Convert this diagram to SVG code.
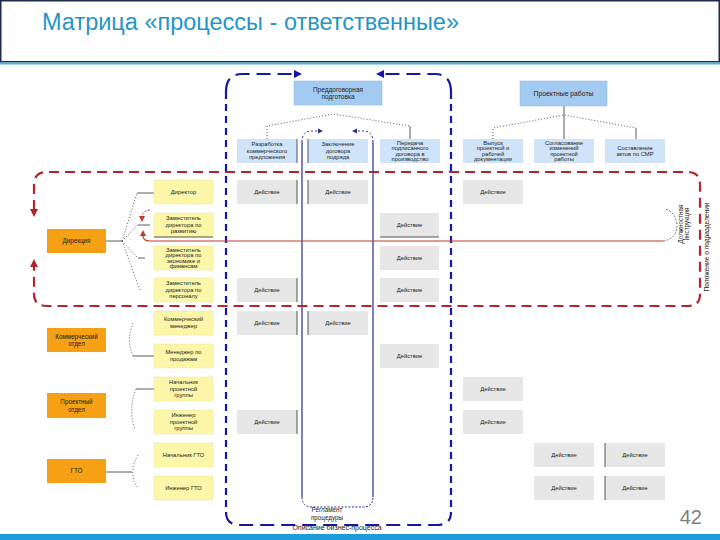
<svg xmlns="http://www.w3.org/2000/svg" width="720" height="540" viewBox="0 0 720 540">
<style>
text{font-family:"Liberation Sans","DejaVu Sans",sans-serif;fill:#222}
.t{font-size:5.8px;text-anchor:middle}
.hb{fill:#a3cbf2;stroke:#8db6de;stroke-width:0.5}
.sb{fill:#cfe4f8}
.yb{fill:#fbf6a8;stroke:#ece49a;stroke-width:0.5}
.ob{fill:#f5a015}
.gb{fill:#e7e7e7}
.edge{stroke:#555;stroke-width:1}
.bd{fill:none;stroke:#1717a3;stroke-width:2.2}
.rd{fill:none;stroke:#b3262c;stroke-width:2.2;stroke-dasharray:10 6}
.dot{fill:none;stroke:#333;stroke-width:0.8;stroke-dasharray:1 2}
.sl{fill:none;stroke:#333;stroke-width:0.8}
</style>
<rect x="0" y="0" width="720" height="540" fill="#fff"/>
<rect x="0.75" y="0.75" width="718.5" height="61" fill="none" stroke="#1d2b4a" stroke-width="1.5"/>
<line x1="0" y1="63.5" x2="720" y2="63.5" stroke="#4bb4dc" stroke-width="2"/>
<rect x="0" y="534" width="720" height="6" fill="#1b9bd7"/>
<text x="42" y="30" style="font-size:23.5px;fill:#2596c4">Матрица «процессы - ответственные»</text>
<text x="702" y="524" style="font-size:20px;fill:#808080;text-anchor:end">42</text>

<g id="connectors">
  <polyline class="dot" points="267,139 267,126 333,114 410,126"/>
  <line class="sl" x1="410" y1="126" x2="410" y2="139"/>
  <line class="sl" x1="564" y1="106" x2="564" y2="139"/>
  <polyline class="dot" points="493,139 493,128 564,115 636,128"/>
  <line class="sl" x1="636" y1="128" x2="636" y2="139"/>
  <line class="sl" x1="106" y1="241" x2="122" y2="241"/>
  <path class="dot" d="M122,241 L137,193 M122,241 L138,225 M122,241 L138,258 M122,241 L140,290"/>
  <line class="sl" x1="137" y1="193" x2="154" y2="193"/>
  <line class="sl" x1="138" y1="225" x2="150" y2="225"/>
  <line class="sl" x1="138" y1="258" x2="145" y2="258"/>
  <path class="dot" d="M133,323 Q126,340 133,356"/>
  <line class="sl" x1="133" y1="356" x2="154" y2="356"/>
  <line class="sl" x1="136" y1="389" x2="154" y2="389"/>
  <path class="dot" d="M136,389 Q128,408 135,430"/>
  <line class="sl" x1="106" y1="472" x2="132" y2="472"/>
  <path class="dot" d="M138,455 Q128,472 137,487"/>
  <path class="bd" d="M226,92 Q226,74 242,74 L296,74" stroke-dasharray="14 7"/>
  <polygon points="294,70 302,74 294,78" fill="#1717a3"/>
  <path class="bd" d="M451,92 Q451,74 435,74 L382,74" stroke-dasharray="14 7"/>
  <polygon points="384,70 376,74 384,78" fill="#1717a3"/>
  <path class="bd" d="M226,92 L226,512" stroke-dasharray="7 5"/>
  <path class="bd" d="M451,92 L451,512" stroke-dasharray="7 5"/>
  <path class="bd" d="M226,512 Q226,525 240,525 L437,525 Q451,525 451,512" stroke-dasharray="14 7"/>
  <path d="M302,142 L302,497 M373,142 L373,497" fill="none" stroke="#2b2b8c" stroke-width="1.2"/>
  <path d="M302,142 Q302,131 312,131 L318,131 M373,142 Q373,131 363,131 L357,131" fill="none" stroke="#2b2b8c" stroke-width="1" stroke-dasharray="2 2"/>
  <polygon points="318,128.5 323,131 318,133.5" fill="#2b2b8c"/>
  <polygon points="357,128.5 352,131 357,133.5" fill="#2b2b8c"/>
  <path d="M302,497 Q302,507 312,507 L363,507 Q373,507 373,497" fill="none" stroke="#2b2b8c" stroke-width="1" stroke-dasharray="2 1.5"/>
  <path class="rd" d="M34,210 L34,185 Q34,172 47,172 L688,172 Q700,172 700,185 L700,294 Q700,306 688,306 L47,306 Q34,306 34,294 L34,266"/>
  <polygon points="30,209 38,209 34,217" fill="#b3262c"/>
  <polygon points="30,267 38,267 34,259" fill="#b3262c"/>
  <path d="M663,241 L150,241 Q143,241 143,236" fill="none" stroke="#c0392b" stroke-width="1.2"/>
  <polygon points="140,236 146,236 143,230" fill="#c0392b"/>
  <path d="M150,210 Q142,211 142,217" fill="none" stroke="#c0392b" stroke-width="1" stroke-dasharray="2 1.5"/>
  <polygon points="139,216 145,216 142,222" fill="#c0392b"/>
  <path d="M663,241 Q677,239 677,225 Q676,212 665,209" fill="none" stroke="#333" stroke-width="0.7" stroke-dasharray="2 1.5"/>
</g>

<g id="labels-side">
  <text transform="translate(683,224) rotate(-90)" class="t" style="font-size:6.3px">Должностная</text>
  <text transform="translate(689,224) rotate(-90)" class="t" style="font-size:6.3px">инструкция</text>
  <text transform="translate(709,247) rotate(-90)" class="t" style="font-size:6.6px">Положение о подразделении</text>
  <text x="327" y="512" class="t" style="font-size:6.3px">Регламент</text>
  <text x="327" y="520" class="t" style="font-size:6.3px">процедуры</text>
  <text x="337" y="530" class="t" style="font-size:7px">Описание бизнес-процесса</text>
</g>

<g id="h-predd"><rect class="hb" x="294" y="81" width="88" height="24"/><text class="t" x="338" y="91.5" style="font-size:6.5px">Преддоговорная</text><text class="t" x="338" y="99" style="font-size:6.5px">подготовка</text></g>
<g id="h-proekt"><rect class="hb" x="520" y="81" width="87" height="25"/><text class="t" x="563.5" y="96" style="font-size:6.8px">Проектные работы</text></g>

<g id="s1"><rect class="sb" x="237" y="139" width="60" height="24"/><line class="edge" x1="297" y1="139" x2="297" y2="163"/><text class="t" x="267" y="146">Разработка</text><text class="t" x="267" y="152.5">коммерческого</text><text class="t" x="267" y="159">предложения</text></g>
<g id="s2"><rect class="sb" x="308" y="139" width="60" height="24"/><line class="edge" x1="308" y1="139" x2="308" y2="163"/><text class="t" x="338" y="146">Заключение</text><text class="t" x="338" y="152.5">договора</text><text class="t" x="338" y="159">подряда</text></g>
<g id="s3"><rect class="sb" x="380" y="139" width="60" height="24"/><text class="t" x="410" y="144.5">Передача</text><text class="t" x="410" y="150">подписанного</text><text class="t" x="410" y="155.5">договора в</text><text class="t" x="410" y="161">производство</text></g>
<g id="s4"><rect class="sb" x="463" y="139" width="60" height="24"/><text class="t" x="493" y="144.5">Выпуск</text><text class="t" x="493" y="150">проектной и</text><text class="t" x="493" y="155.5">рабочей</text><text class="t" x="493" y="161">документации</text></g>
<g id="s5"><rect class="sb" x="534" y="139" width="60" height="24"/><text class="t" x="564" y="144.5">Согласование</text><text class="t" x="564" y="150">изменений</text><text class="t" x="564" y="155.5">проектной</text><text class="t" x="564" y="161">работы</text></g>
<g id="s6"><rect class="sb" x="605" y="139" width="60" height="24"/><text class="t" x="635" y="149.5">Составление</text><text class="t" x="635" y="156">актов по СМР</text></g>

<g id="o1"><rect class="ob" x="47" y="229" width="59" height="24"/><text class="t" x="76.5" y="243" style="font-size:6.3px">Дирекция</text></g>
<g id="o2"><rect class="ob" x="47" y="328" width="59" height="24"/><text class="t" x="76.5" y="338.5" style="font-size:6.3px">Коммерческий</text><text class="t" x="76.5" y="346" style="font-size:6.3px">отдел</text></g>
<g id="o3"><rect class="ob" x="47" y="393" width="59" height="25"/><text class="t" x="76.5" y="404" style="font-size:6.3px">Проектный</text><text class="t" x="76.5" y="411.5" style="font-size:6.3px">отдел</text></g>
<g id="o4"><rect class="ob" x="47" y="459" width="59" height="24"/><text class="t" x="76.5" y="473" style="font-size:6.3px">ГТО</text></g>

<g id="y1"><rect class="yb" x="154" y="180" width="59" height="24"/><text class="t" x="183.5" y="194">Директор</text></g>
<g id="y2"><rect class="yb" x="154" y="213" width="59" height="24"/><line class="edge" x1="154" y1="237" x2="213" y2="237"/><text class="t" x="183.5" y="220">Заместитель</text><text class="t" x="183.5" y="226.5">директора по</text><text class="t" x="183.5" y="233">развитию</text></g>
<g id="y3"><rect class="yb" x="154" y="246" width="59" height="24"/><text class="t" x="183.5" y="251.5">Заместитель</text><text class="t" x="183.5" y="257">директора по</text><text class="t" x="183.5" y="262.5">экономике и</text><text class="t" x="183.5" y="268">финансам</text></g>
<g id="y4"><rect class="yb" x="154" y="278" width="59" height="24"/><text class="t" x="183.5" y="285">Заместитель</text><text class="t" x="183.5" y="291.5">директора по</text><text class="t" x="183.5" y="298">персоналу</text></g>
<g id="y5"><rect class="yb" x="154" y="311" width="59" height="24"/><text class="t" x="183.5" y="321">Коммерческий</text><text class="t" x="183.5" y="328">менеджер</text></g>
<g id="y6"><rect class="yb" x="154" y="344" width="59" height="24"/><text class="t" x="183.5" y="354">Менеджер по</text><text class="t" x="183.5" y="361">продажам</text></g>
<g id="y7"><rect class="yb" x="154" y="377" width="59" height="24"/><text class="t" x="183.5" y="384">Начальник</text><text class="t" x="183.5" y="390.5">проектной</text><text class="t" x="183.5" y="397">группы</text></g>
<g id="y8"><rect class="yb" x="154" y="410" width="59" height="24"/><text class="t" x="183.5" y="417">Инженер</text><text class="t" x="183.5" y="423.5">проектной</text><text class="t" x="183.5" y="430">группы</text></g>
<g id="y9"><rect class="yb" x="154" y="443" width="59" height="24"/><text class="t" x="183.5" y="457">Начальник ГТО</text></g>
<g id="y10"><rect class="yb" x="154" y="476" width="59" height="24"/><text class="t" x="183.5" y="490">Инженер ГТО</text></g>

<g id="cells">
  <g id="c-r1-1"><rect class="gb" x="237" y="180" width="60" height="24"/><line class="edge" x1="297" y1="180" x2="297" y2="204"/><text class="t" x="267" y="194">Действие</text></g>
  <g id="c-r1-2"><rect class="gb" x="308" y="180" width="60" height="24"/><line class="edge" x1="308" y1="180" x2="308" y2="204"/><text class="t" x="338" y="194">Действие</text></g>
  <g id="c-r1-4"><rect class="gb" x="463" y="180" width="60" height="24"/><text class="t" x="493" y="194">Действие</text></g>
  <g id="c-r2-3"><rect class="gb" x="380" y="213" width="59" height="24"/><line class="edge" x1="380" y1="237" x2="439" y2="237"/><text class="t" x="409.5" y="227">Действие</text></g>
  <g id="c-r3-3"><rect class="gb" x="380" y="246" width="59" height="24"/><text class="t" x="409.5" y="260">Действие</text></g>
  <g id="c-r4-1"><rect class="gb" x="237" y="278" width="60" height="24"/><line class="edge" x1="297" y1="278" x2="297" y2="302"/><text class="t" x="267" y="292">Действие</text></g>
  <g id="c-r4-3"><rect class="gb" x="380" y="278" width="59" height="24"/><text class="t" x="409.5" y="292">Действие</text></g>
  <g id="c-r5-1"><rect class="gb" x="237" y="311" width="60" height="24"/><line class="edge" x1="297" y1="311" x2="297" y2="335"/><text class="t" x="267" y="325">Действие</text></g>
  <g id="c-r5-2"><rect class="gb" x="308" y="311" width="60" height="24"/><line class="edge" x1="308" y1="311" x2="308" y2="335"/><text class="t" x="338" y="325">Действие</text></g>
  <g id="c-r6-3"><rect class="gb" x="380" y="344" width="59" height="24"/><text class="t" x="409.5" y="358">Действие</text></g>
  <g id="c-r7-4"><rect class="gb" x="463" y="377" width="60" height="24"/><text class="t" x="493" y="391">Действие</text></g>
  <g id="c-r8-1"><rect class="gb" x="237" y="410" width="60" height="24"/><line class="edge" x1="297" y1="410" x2="297" y2="434"/><text class="t" x="267" y="424">Действие</text></g>
  <g id="c-r8-4"><rect class="gb" x="463" y="410" width="60" height="24"/><text class="t" x="493" y="424">Действие</text></g>
  <g id="c-r9-5"><rect class="gb" x="534" y="443" width="60" height="24"/><text class="t" x="564" y="457">Действие</text></g>
  <g id="c-r9-6"><rect class="gb" x="605" y="443" width="60" height="24"/><line class="edge" x1="605" y1="443" x2="605" y2="467"/><text class="t" x="635" y="457">Действие</text></g>
  <g id="c-r10-5"><rect class="gb" x="534" y="476" width="60" height="24"/><text class="t" x="564" y="490">Действие</text></g>
  <g id="c-r10-6"><rect class="gb" x="605" y="476" width="60" height="24"/><line class="edge" x1="605" y1="476" x2="605" y2="500"/><text class="t" x="635" y="490">Действие</text></g>
</g>
</svg>
